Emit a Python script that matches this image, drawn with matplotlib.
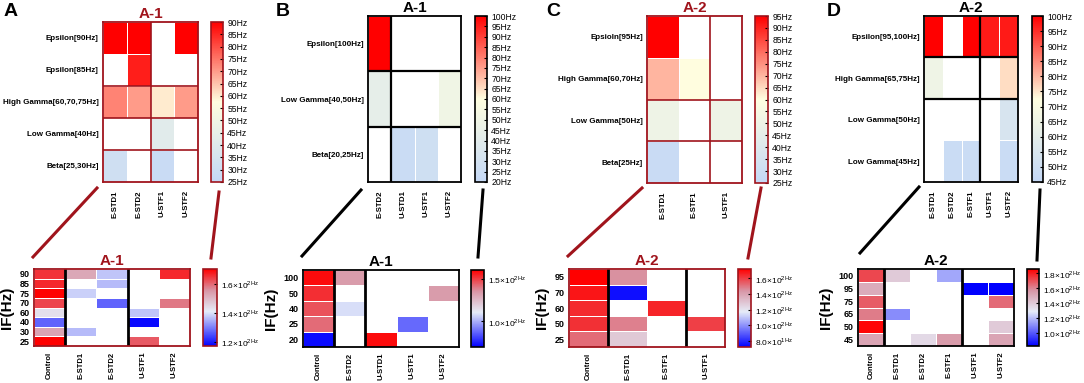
import numpy as np
import matplotlib
matplotlib.use("Agg")
import matplotlib.pyplot as plt
from matplotlib.colors import LinearSegmentedColormap
from matplotlib.lines import Line2D

plt.rcParams['font.family'] = ['Liberation Sans', 'DejaVu Sans']
plt.rcParams['mathtext.fontset'] = 'custom'
plt.rcParams['mathtext.rm'] = 'Liberation Sans'
nan = np.nan

# ---- top heatmaps (frequency, Hz) ----
a_rows = ['Epsilon[90Hz]', 'Epsilon[85Hz]', 'High Gamma[60,70,75Hz]', 'Low Gamma[40Hz]', 'Beta[25,30Hz]']
a_cols = ['E-STD1', 'E-STD2', 'U-STF1', 'U-STF2']
a_vals = [[90, 90, nan, 90],
          [nan, 86, nan, nan],
          [73, 70, 60, 70],
          [nan, nan, 41, nan],
          [31, nan, 28, nan]]

b_rows = ['Epsilon[100Hz]', 'Low Gamma[40,50Hz]', 'Beta[20,25Hz]']
b_cols = ['E-STD2', 'U-STD1', 'U-STF1', 'U-STF2']
b_vals = [[100, nan, nan, nan],
          [43, nan, nan, 50],
          [nan, 24, 27, nan]]

c_rows = ['Epsioln[95Hz]', 'High Gamma[60,70Hz]', 'Low Gamma[50Hz]', 'Beta[25Hz]']
c_cols = ['E-STD1', 'E-STF1', 'U-STF1']
c_vals = [[95, nan, nan],
          [70, 60, nan],
          [50, nan, 50],
          [28, nan, nan]]

d_rows = ['Epsilon[95,100Hz]', 'High Gamma[65,75Hz]', 'Low Gamma[50Hz]', 'Low Gamma[45Hz]']
d_cols = ['E-STD1', 'E-STD2', 'E-STF1', 'U-STF1', 'U-STF2']
d_vals = [[100, nan, 100, 97, 97],
          [65, nan, nan, nan, 76],
          [nan, nan, nan, nan, 54],
          [nan, 48, 48, nan, 48]]

# ---- bottom heatmaps (IF) ----
ab_rows = [90, 85, 75, 70, 60, 40, 30, 25]
ab_cols = ['Control', 'E-STD1', 'E-STD2', 'U-STF1', 'U-STF2']
ab_vals = [[165, 152, 137, nan, 166],
           [166, nan, 136, nan, nan],
           [170, 138, nan, nan, nan],
           [163, nan, 127, nan, 158],
           [143, nan, nan, 137, nan],
           [127, nan, nan, 118, nan],
           [153, 136, nan, nan, nan],
           [170, nan, nan, 161, nan]]

bb_rows = [100, 50, 40, 25, 20]
bb_cols = ['Control', 'E-STD2', 'U-STD1', 'U-STF1', 'U-STF2']
bb_vals = [[158, 133, nan, nan, nan],
           [152, nan, nan, nan, 133],
           [146, 108, nan, nan, nan],
           [142, nan, nan, 88, nan],
           [72, nan, 158, nan, nan]]

cb_rows = [95, 70, 60, 50, 25]
cb_cols = ['Control', 'E-STD1', 'E-STF1', 'U-STF1']
cb_vals = [[172, 145, nan, nan],
           [168, 75, nan, nan],
           [164, nan, 165, nan],
           [163, 148, nan, 160],
           [152, 128, nan, nan]]

db_rows = [100, 95, 75, 65, 50, 45]
db_cols = ['Control', 'E-STD1', 'E-STD2', 'E-STF1', 'U-STF1', 'U-STF2']
db_vals = [[172, 140, nan, 115, nan, nan],
           [150, nan, nan, nan, 82, 82],
           [168, nan, nan, nan, nan, 165],
           [162, 110, nan, nan, nan, nan],
           [185, nan, nan, nan, nan, 140],
           [152, nan, 135, 155, nan, 152]]

W, H = 1084, 383
fig = plt.figure(figsize=(W / 100, H / 100), dpi=100)
DARKRED = '#a0141c'

cm_top = LinearSegmentedColormap.from_list('top', ['#c4d8f6', '#fffee0', '#ff0000'])
cm_bot = LinearSegmentedColormap.from_list(
    'bot', [(0, '#0000ff'), (0.45, '#e6ecf8'), (0.72, '#d896a6'), (1, '#ff0000')])


def box(x0, y0, x1, y1):
    return [x0 / W, 1 - y1 / H, (x1 - x0) / W, (y1 - y0) / H]


def heat(rect, vals, cmap, vmin, vmax, color, vsep, hsep, title):
    ax = fig.add_axes(box(*rect))
    arr = np.ma.masked_invalid(np.array(vals, dtype=float))
    m = ax.pcolormesh(arr, cmap=cmap, vmin=vmin, vmax=vmax, edgecolors='white', linewidth=0.6)
    ax.set_xlim(0, arr.shape[1])
    ax.set_ylim(arr.shape[0], 0)
    for v in vsep:
        ax.axvline(v, color=color, lw=1.6 if color == 'black' else 1.2)
    for h in hsep:
        ax.axhline(h, color=color, lw=1.6 if color == 'black' else 1.2)
    for s in ax.spines.values():
        s.set_color(color)
        s.set_linewidth(1.3)
    ax.set_title(title, fontsize=11, fontweight='bold', color=color, pad=3)
    ax.tick_params(length=0, pad=3)
    return ax, m


def cbar(rect, m, color, ticks, labels, fs):
    cax = fig.add_axes(box(*rect))
    cb = fig.colorbar(m, cax=cax)
    cb.outline.set_edgecolor(color)
    cb.outline.set_linewidth(1.2)
    cb.set_ticks(ticks)
    cb.set_ticklabels(labels)
    cax.tick_params(labelsize=fs, length=2, width=0.8, direction='in', pad=3)
    return cb


def hz_ticks(lo, hi):
    t = list(range(lo, hi + 1, 5))
    return t, ['%dHz' % v for v in t]


def sci(v):
    e = int(np.floor(np.log10(v)))
    return r'%.1f$\times$10$^{\mathregular{%dHz}}$' % (v / 10 ** e, e)


tops = [
    ((103, 22, 198, 182), (211, 22, 223, 182), a_vals, a_rows, a_cols, 25, 90, DARKRED, [2], [2, 3, 4], 'A-1'),
    ((368, 16, 461, 182), (475, 16, 487, 182), b_vals, b_rows, b_cols, 20, 100, 'black', [1], [1, 2], 'A-1'),
    ((647, 16, 742, 183), (755, 16, 768, 183), c_vals, c_rows, c_cols, 25, 95, DARKRED, [2], [2, 3], 'A-2'),
    ((924, 16, 1018, 182), (1032, 16, 1043, 182), d_vals, d_rows, d_cols, 45, 100, 'black', [3], [1, 2], 'A-2'),
]
for rect, crect, vals, rows, cols, lo, hi, color, vs, hs, title in tops:
    ax, m = heat(rect, vals, cm_top, lo, hi, color, vs, hs, title)
    ax.set_yticks(np.arange(len(rows)) + 0.5)
    ax.set_yticklabels(rows, fontsize=5.8, fontweight='bold')
    ax.set_xticks(np.arange(len(cols)) + 0.5)
    ax.set_xticklabels(cols, fontsize=5.6, fontweight='bold', rotation=90)
    ax.tick_params(axis='x', pad=6)
    t, l = hz_ticks(lo, hi)
    cbar(crect, m, color, t, l, 6.2)

bots = [
    ((34, 269, 190, 346), (203, 269, 217, 346), ab_vals, ab_rows, ab_cols, 117, 170, [120, 140, 160], DARKRED, [1, 3], 'A-1'),
    ((303, 270, 459, 347), (471, 270, 484, 347), bb_vals, bb_rows, bb_cols, 70, 160, [100, 150], 'black', [1, 2], 'A-1'),
    ((569, 269, 725, 347), (738, 269, 751, 347), cb_vals, cb_rows, cb_cols, 72, 172, [80, 100, 120, 140, 160], DARKRED, [1, 3], 'A-2'),
    ((858, 269, 1014, 346), (1027, 269, 1039, 346), db_vals, db_rows, db_cols, 82, 186, [100, 120, 140, 160, 180], 'black', [1, 4], 'A-2'),
]
for rect, crect, vals, rows, cols, lo, hi, ticks, color, vs, title in bots:
    ax, m = heat(rect, vals, cm_bot, lo, hi, color, [], [], title)
    for v in vs:
        ax.axvline(v, color='black', lw=2)
    ax.set_yticks(np.arange(len(rows)) + 0.5)
    ax.set_yticklabels([str(r) for r in rows], fontsize=6.5, fontweight='bold')
    ax.set_xticks(np.arange(len(cols)) + 0.5)
    ax.set_xticklabels(cols, fontsize=5.5, fontweight='bold', rotation=90)
    ax.tick_params(axis='x', pad=4)
    ax.set_ylabel('IF(Hz)', fontsize=11, fontweight='bold', labelpad=4)
    cbar(crect, m, color, ticks, [sci(v) for v in ticks], 6)

# connector lines from top panels to bottom panels
links = [
    ((97, 188), (33, 257), DARKRED), ((219, 192), (211, 258), DARKRED),
    ((361, 190), (302, 256), 'black'), ((483, 190), (478, 257), 'black'),
    ((642, 188), (568, 256), DARKRED), ((761, 188), (748, 258), DARKRED),
    ((919, 187), (860, 253), 'black'), ((1040, 190), (1037, 260), 'black'),
]
for (x0, y0), (x1, y1), c in links:
    fig.add_artist(Line2D([x0 / W, x1 / W], [1 - y0 / H, 1 - y1 / H],
                          transform=fig.transFigure, color=c, lw=2.2))

for lab, x, y in [('A', 4, 12), ('B', 276, 12), ('C', 546, 11), ('D', 827, 12)]:
    fig.text(x / W, 1 - y / H, lab, fontsize=14, fontweight='bold', va='center')

fig.savefig('out.png', dpi=100)
